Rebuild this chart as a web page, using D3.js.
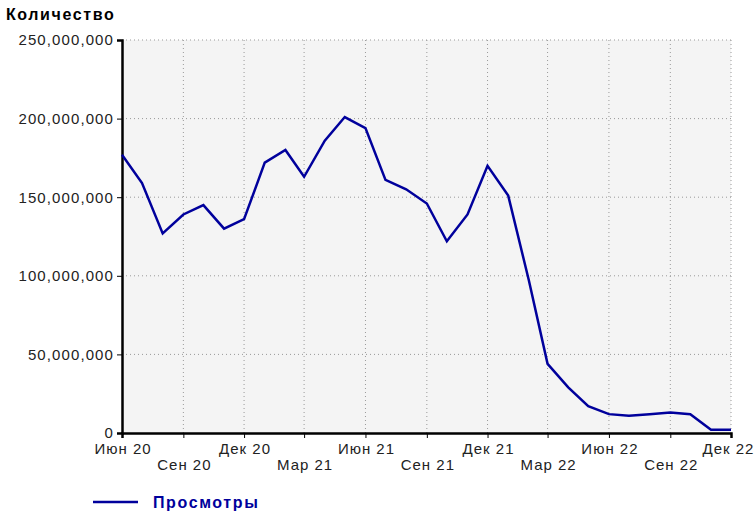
<!DOCTYPE html>
<html>
<head>
<meta charset="utf-8">
<script src="https://cdn.jsdelivr.net/npm/d3@7"></script>
<style>
  body { margin: 0; background: #fff; }
  text { font-family: "Liberation Sans", Arial, sans-serif; }
</style>
</head>
<body>
<div id="chart"></div>
<script>
// monthly data, Jun 2020 .. Dec 2022
var startMonth = "2020-06";
var views = [177, 159, 127, 139, 145, 130, 136, 172, 180, 163, 186, 201, 194,
             161, 155, 146, 122, 139, 170, 151, 97, 44, 29, 17, 12, 11, 12, 13, 12, 2, 2]
             .map(function(v){ return v * 1e6; });
var tickMonths = ["2020-06","2020-09","2020-12","2021-03","2021-06","2021-09",
                  "2021-12","2022-03","2022-06","2022-09","2022-12"];
var tickLabels = ["Июн 20","Сен 20","Дек 20","Мар 21","Июн 21","Сен 21",
                  "Дек 21","Мар 22","Июн 22","Сен 22","Дек 22"];
var yTicks = [0, 50e6, 100e6, 150e6, 200e6, 250e6];
var seriesName = "Просмотры";
var yTitle = "Количество";

var parse = d3.timeParse("%Y-%m");
var start = parse(startMonth);
var data = views.map(function(v, i){ return { month: d3.timeMonth.offset(start, i), value: v }; });
var tickDates = tickMonths.map(parse);

var margin = {top: 40, right: 25, bottom: 85, left: 122},
    width = 756 - margin.left - margin.right,
    height = 518 - margin.top - margin.bottom;

var svg = d3.select("#chart")
  .append("svg")
    .attr("width", 756)
    .attr("height", 518)
  .append("g")
    .attr("transform", "translate(" + margin.left + "," + margin.top + ")");

var x = d3.scaleTime()
  .domain(d3.extent(data, function(d){ return d.month; }))
  .range([0, width]);
var y = d3.scaleLinear()
  .domain([0, 250e6])
  .range([height, 0]);

// plot background
svg.append("rect")
  .attr("width", width).attr("height", height)
  .attr("fill", "#f4f4f4");

// grid
svg.append("g").selectAll("line.vg")
  .data(tickDates.slice(1))
  .enter().append("line")
    .attr("x1", function(d){ return x(d); }).attr("x2", function(d){ return x(d); })
    .attr("y1", 0).attr("y2", height)
    .attr("stroke", "#999").attr("stroke-dasharray", "1,3");
svg.append("g").selectAll("line.hg")
  .data(yTicks.slice(1))
  .enter().append("line")
    .attr("x1", 0).attr("x2", width)
    .attr("y1", function(d){ return y(d); }).attr("y2", function(d){ return y(d); })
    .attr("stroke", "#999").attr("stroke-dasharray", "1,3");

// axes
var fmt = d3.format(",");
var yAxis = svg.append("g")
  .call(d3.axisLeft(y).tickValues(yTicks).tickFormat(fmt).tickSize(5).tickPadding(3));
yAxis.select(".domain").attr("stroke-width", 2.5);
yAxis.selectAll("text")
  .attr("font-size", 15).attr("fill", "#222")
  .style("letter-spacing", "1.1px");

var xAxis = svg.append("g")
  .attr("transform", "translate(0," + height + ")")
  .call(d3.axisBottom(x).tickValues(tickDates)
    .tickFormat(function(d, i){ return tickLabels[i]; }).tickSize(5).tickPadding(4));
xAxis.select(".domain").attr("stroke-width", 2.5);
xAxis.selectAll("text")
  .attr("font-size", 15).attr("fill", "#222")
  .style("letter-spacing", "1px")
  .attr("x", function(d, i){ return i === tickLabels.length - 1 ? -3 : 0.5; })
  .attr("dy", function(d, i){ return i % 2 ? "1.85em" : "0.8em"; });

// y title
svg.append("text")
  .attr("x", 6 - margin.left).attr("y", 20 - margin.top)
  .attr("font-size", 16).attr("font-weight", "bold")
  .style("letter-spacing", "1.6px")
  .text(yTitle);

// line
svg.append("path")
  .datum(data)
  .attr("fill", "none")
  .attr("stroke", "#00009c")
  .attr("stroke-width", 2.5)
  .attr("d", d3.line()
    .x(function(d){ return x(d.month); })
    .y(function(d){ return y(d.value); }));

// legend
var lg = svg.append("g").attr("transform", "translate(" + (93 - margin.left) + "," + (502 - margin.top) + ")");
lg.append("line").attr("x1", 0).attr("x2", 45).attr("stroke", "#00009c").attr("stroke-width", 2.5);
lg.append("text").attr("x", 60).attr("dy", "0.36em")
  .attr("font-size", 16).attr("font-weight", "bold").attr("fill", "#00009c")
  .style("letter-spacing", "1.6px")
  .text(seriesName);
</script>
</body>
</html>
